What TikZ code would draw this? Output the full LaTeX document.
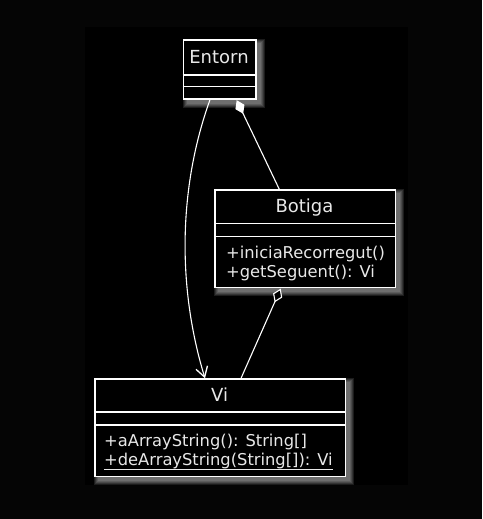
\documentclass[tikz,border=0pt]{standalone}
\usepackage{fontspec}
\setmainfont{DejaVu Sans}
\usetikzlibrary{arrows.meta,calc}
\pgfdeclarelayer{background}
\pgfsetlayers{background,main}
\definecolor{outerbg}{RGB}{5,5,5}
\definecolor{txt}{RGB}{232,232,232}
\tikzset{
  classbox/.style={draw=white, line width=1.4pt, fill=black, rectangle, anchor=north west, inner sep=0pt},
  sep/.style={draw=white, line width=1.4pt},
  hdr/.style={text=txt, font=\fontsize{18}{18}\selectfont, anchor=base, inner sep=0pt},
  mem/.style={text=txt, font=\fontsize{16.3}{16.3}\selectfont, anchor=base west, inner sep=0pt},
  conn/.style={draw=white, line width=1.1pt},
  dep/.style={conn, -{Straight Barb[length=10pt,width=12pt,line width=1.3pt]}},
  comp/.style={conn, -{Diamond[length=15pt,width=10pt,fill=white]}},
  aggr/.style={conn, -{Diamond[length=15pt,width=10pt,fill=black,line width=1.1pt]}},
}
\newcommand{\myshadow}[1]{%
  \foreach \r in {4,3,2,1,0}{
    \fill[white, opacity=0.11] ($(#1.north west)+(4-\r,4-\r)$) rectangle ($(#1.south east)+(4+\r,4+\r)$);
  }}
\begin{document}
\begin{tikzpicture}[x=1pt,y=-1pt]
\useasboundingbox (0,0) rectangle (482,519);

% Entorn
\node[classbox, minimum width=72.6pt, minimum height=59pt] (entorn) at (182.7,39.3) {};
\draw[sep] (entorn.west |- 0,75) -- (entorn.east |- 0,75);
\draw[sep] (entorn.west |- 0,86.3) -- (entorn.east |- 0,86.3);
\node[hdr] (entornname) at (219,63.3) {Entorn};

% Botiga
\node[classbox, minimum width=180.4pt, minimum height=97.4pt] (botiga) at (214.3,189.3) {};
\draw[sep] (botiga.west |- 0,223.7) -- (botiga.east |- 0,223.7);
\draw[sep] (botiga.west |- 0,236.3) -- (botiga.east |- 0,236.3);
\node[hdr] (botiganame) at (304.5,212.7) {Botiga};
\node[mem] (botigam1) at (226,258) {+iniciaRecorregut()};
\node[mem] (botigam2) at (226,277) {+getSeguent(): Vi};

% Vi
\node[classbox, minimum width=250.7pt, minimum height=97.7pt] (vi) at (94.3,378.3) {};
\draw[sep] (vi.west |- 0,412) -- (vi.east |- 0,412);
\draw[sep] (vi.west |- 0,425) -- (vi.east |- 0,425);
\node[hdr] (viname) at (219.7,401.7) {Vi};
\node[mem] (vim1) at (104,446.5) {+aArrayString(): String[]};
\node[mem] (vim2) at (104,465.3) {+deArrayString(String[]): Vi};
\draw[txt, line width=1.1pt] (vim2.base west) ++(0,4) coordinate (ul1) -- (ul1 -| vim2.base east);

% connectors
\draw[dep] ([xshift=27.3pt]entorn.south west) .. controls (177.5,190) and (178,290) .. ([xshift=110.7pt]vi.north west);
\draw[comp] ([xshift=65pt]botiga.north west) -- ([xshift=54pt,yshift=-0.5pt]entorn.south west);
\draw[aggr] ([xshift=146.7pt]vi.north west) -- ([xshift=66.4pt,yshift=-0.5pt]botiga.south west);

\begin{pgfonlayer}{background}
  \fill[outerbg] (0,0) rectangle (482,519);
  \fill[black] (85,27) rectangle (408,485);
  \myshadow{entorn}
  \myshadow{botiga}
  \myshadow{vi}
\end{pgfonlayer}
\end{tikzpicture}
\end{document}
